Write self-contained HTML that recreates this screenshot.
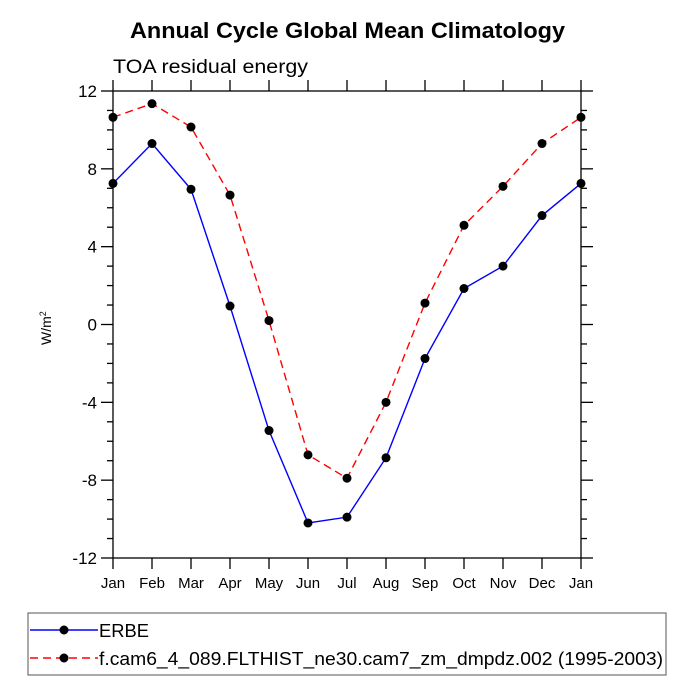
<!DOCTYPE html>
<html><head><meta charset="utf-8"><style>body{margin:0;background:#fff}svg{display:block;font-family:"Liberation Sans",Arial,sans-serif}</style></head>
<body>
<svg id="c" width="694" height="694"></svg>
<script>
const months=["Jan","Feb","Mar","Apr","May","Jun","Jul","Aug","Sep","Oct","Nov","Dec","Jan"];
const erbe=[7.25,9.3,6.95,0.95,-5.45,-10.2,-9.9,-6.85,-1.75,1.85,3.0,5.6,7.25];
const model=[10.65,11.35,10.15,6.65,0.2,-6.7,-7.9,-4.0,1.1,5.1,7.1,9.3,10.65];
const yTicks=[12,8,4,0,-4,-8,-12];
const L=113,R=581,T=91,B=558,ymin=-12,ymax=12;
const sx=i=>L+i*(R-L)/12, sy=v=>B-(v-ymin)/(ymax-ymin)*(B-T);
const svg=document.getElementById('c');const NS="http://www.w3.org/2000/svg";
function mk(t,a,p){const e=document.createElementNS(NS,t);for(const k in a)e.setAttribute(k,a[k]);(p||svg).appendChild(e);return e;}
function txt(s,a,p){const e=mk('text',a,p);e.textContent=s;return e;}
let e;
e=txt("Annual Cycle Global Mean Climatology",{x:130,y:38,'font-size':22,'font-weight':'bold',textLength:435,lengthAdjust:'spacingAndGlyphs'});

e=txt("TOA residual energy",{x:113,y:73,'font-size':19,textLength:195,lengthAdjust:'spacingAndGlyphs'});

e=txt("W/m",{x:0,y:0,'font-size':14,transform:'translate(51,345) rotate(-90)'});

const sup=mk('tspan',{dy:-5,'font-size':9},e);sup.textContent="2";
const ax=mk('g',{stroke:'#000','stroke-width':1.3,fill:'none'});

mk('rect',{x:L,y:T,width:R-L,height:B-T},ax);
months.forEach((m,i)=>{const x=sx(i);mk('line',{x1:x,x2:x,y1:B,y2:B+11},ax);mk('line',{x1:x,x2:x,y1:T,y2:T-11},ax);
 e=txt(m,{x:x,y:B+30,'text-anchor':'middle','font-size':15});
 });
for(let v=ymin;v<=ymax;v+=1){const y=sy(v);const maj=v%4===0;const len=maj?12:6;
 mk('line',{x1:L,x2:L-len,y1:y,y2:y},ax);mk('line',{x1:R,x2:R+len,y1:y,y2:y},ax);}
yTicks.forEach(v=>{e=txt(String(v),{x:L-16,y:sy(v)+6,'text-anchor':'end','font-size':17});
 });
function series(d,col,dash,name){const g=mk('g',{});
 const pts=d.map((v,i)=>sx(i)+','+sy(v)).join(' ');
 const pl=mk('polyline',{points:pts,fill:'none',stroke:col,'stroke-width':1.4,'stroke-dasharray':dash},g);
 
 d.forEach((v,i)=>{const c=mk('circle',{cx:sx(i),cy:sy(v),r:4.5,fill:'#000'},g);
  });}
series(erbe,'#0000ff','none','erbe-series');
series(model,'#ff0000','8,5','model-series');
const lg=mk('g',{});
mk('rect',{x:28,y:613,width:638,height:62,fill:'none',stroke:'#555','stroke-width':1},lg);
[[630,'#0000ff','none','ERBE',50],[658,'#ff0000','8,5','f.cam6_4_089.FLTHIST_ne30.cam7_zm_dmpdz.002 (1995-2003)',564]].forEach(r=>{
 mk('line',{x1:30,x2:98,y1:r[0],y2:r[0],stroke:r[1],'stroke-width':1.4,'stroke-dasharray':r[2]},lg);
 mk('circle',{cx:64,cy:r[0],r:4.5,fill:'#000'},lg);
 e=txt(r[3],{x:99,y:r[0]+7,'font-size':18,textLength:r[4],lengthAdjust:'spacingAndGlyphs'},lg);
 });
</script>
</body></html>
